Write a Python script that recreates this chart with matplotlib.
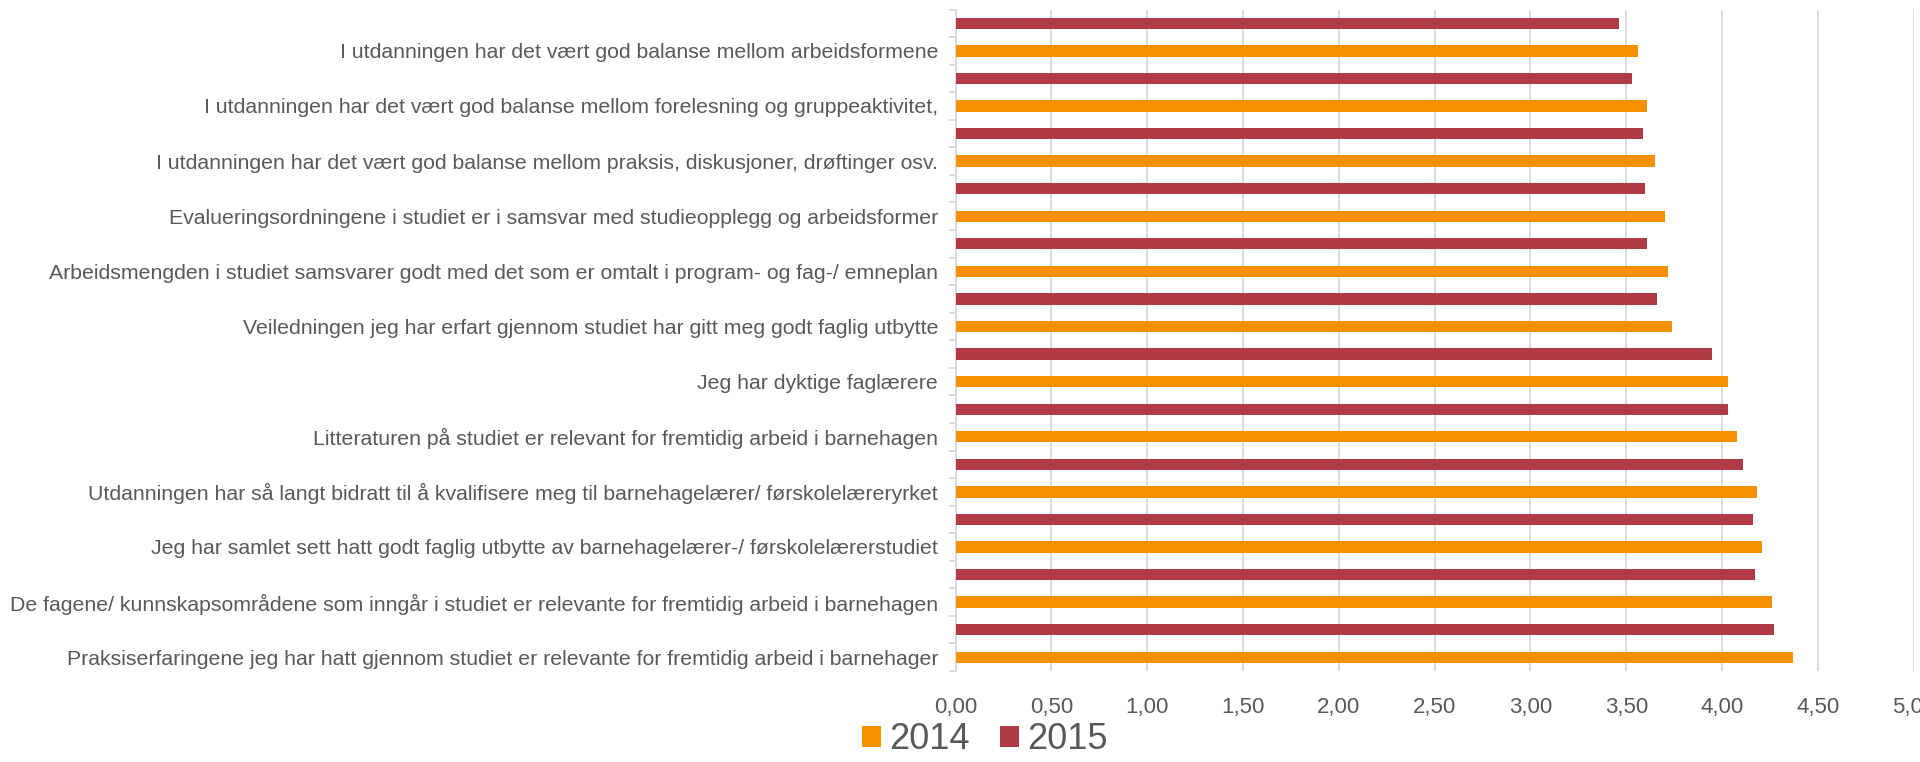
import numpy as np
import matplotlib
matplotlib.use("Agg")
from matplotlib import pyplot as plt
from matplotlib.ticker import FixedLocator, FuncFormatter

categories = [
    "I utdanningen har det vært god balanse mellom arbeidsformene",
    "I utdanningen har det vært god balanse mellom forelesning og gruppeaktivitet,",
    "I utdanningen har det vært god balanse mellom praksis, diskusjoner, drøftinger osv.",
    "Evalueringsordningene i studiet er i samsvar med studieopplegg og arbeidsformer",
    "Arbeidsmengden i studiet samsvarer godt med det som er omtalt i program- og fag-/ emneplan",
    "Veiledningen jeg har erfart gjennom studiet har gitt meg godt faglig utbytte",
    "Jeg har dyktige faglærere",
    "Litteraturen på studiet er relevant for fremtidig arbeid i barnehagen",
    "Utdanningen har så langt bidratt til å kvalifisere meg til barnehagelærer/ førskolelæreryrket",
    "Jeg har samlet sett hatt godt faglig utbytte av barnehagelærer-/ førskolelærerstudiet",
    "De fagene/ kunnskapsområdene som inngår i studiet er relevante for fremtidig arbeid i barnehagen",
    "Praksiserfaringene jeg har hatt gjennom studiet er relevante for fremtidig arbeid i barnehager",
]
values_2014 = [3.56, 3.61, 3.65, 3.70, 3.72, 3.74, 4.03, 4.08, 4.18, 4.21, 4.26, 4.37]
values_2015 = [3.46, 3.53, 3.59, 3.60, 3.61, 3.66, 3.95, 4.03, 4.11, 4.16, 4.17, 4.27]
series_names = ["2014", "2015"]
xticks = [0, 0.5, 1, 1.5, 2, 2.5, 3, 3.5, 4, 4.5, 5]

orange = "#f59100"
red = "#b03a46"
text_gray = "#595959"
grid_gray = "#d9d9d9"

plt.rcParams["font.family"] = ["Liberation Sans", "DejaVu Sans"]

fig = plt.figure(figsize=(19.2, 7.62), dpi=100)
ax = fig.add_axes([0.4977, 0.1194, 0.4990, 0.8681])

pos = np.arange(len(categories))
bar_h = 0.205
ax.barh(pos, values_2014, height=bar_h, color=orange, label=series_names[0], zorder=3)
ax.barh(pos - 0.5, values_2015, height=bar_h, color=red, label=series_names[1], zorder=3)

ax.set_xlim(0, 5)
ax.set_ylim(len(categories) - 0.75, -0.75)

ax.set_xticks(xticks)
ax.xaxis.set_major_formatter(FuncFormatter(lambda v, p: f"{v:.2f}".replace(".", ",")))
ax.tick_params(axis="x", length=0, pad=19, labelsize=16, labelcolor=text_gray)
ax.grid(axis="x", color=grid_gray, linewidth=1.3, zorder=0)

ax.set_yticks(pos)
ax.set_yticklabels(categories)
ax.tick_params(axis="y", which="major", length=0, pad=12.5, labelsize=15.3, labelcolor=text_gray)
ax.yaxis.set_minor_locator(FixedLocator(np.arange(-0.75, len(categories) - 0.74, 0.5)))
ax.tick_params(axis="y", which="minor", length=5, width=1.3, color=grid_gray, direction="out")

for side in ["top", "right", "bottom"]:
    ax.spines[side].set_visible(False)
ax.spines["left"].set_color(grid_gray)
ax.spines["left"].set_linewidth(1.3)

fig.legend(loc="center", bbox_to_anchor=(0.5128, 0.029), ncol=2, frameon=False,
           fontsize=26, handlelength=0.53, handleheight=0.53, handletextpad=0.22,
           columnspacing=0.83, labelcolor=text_gray)

fig.savefig("out.png", dpi=100)
